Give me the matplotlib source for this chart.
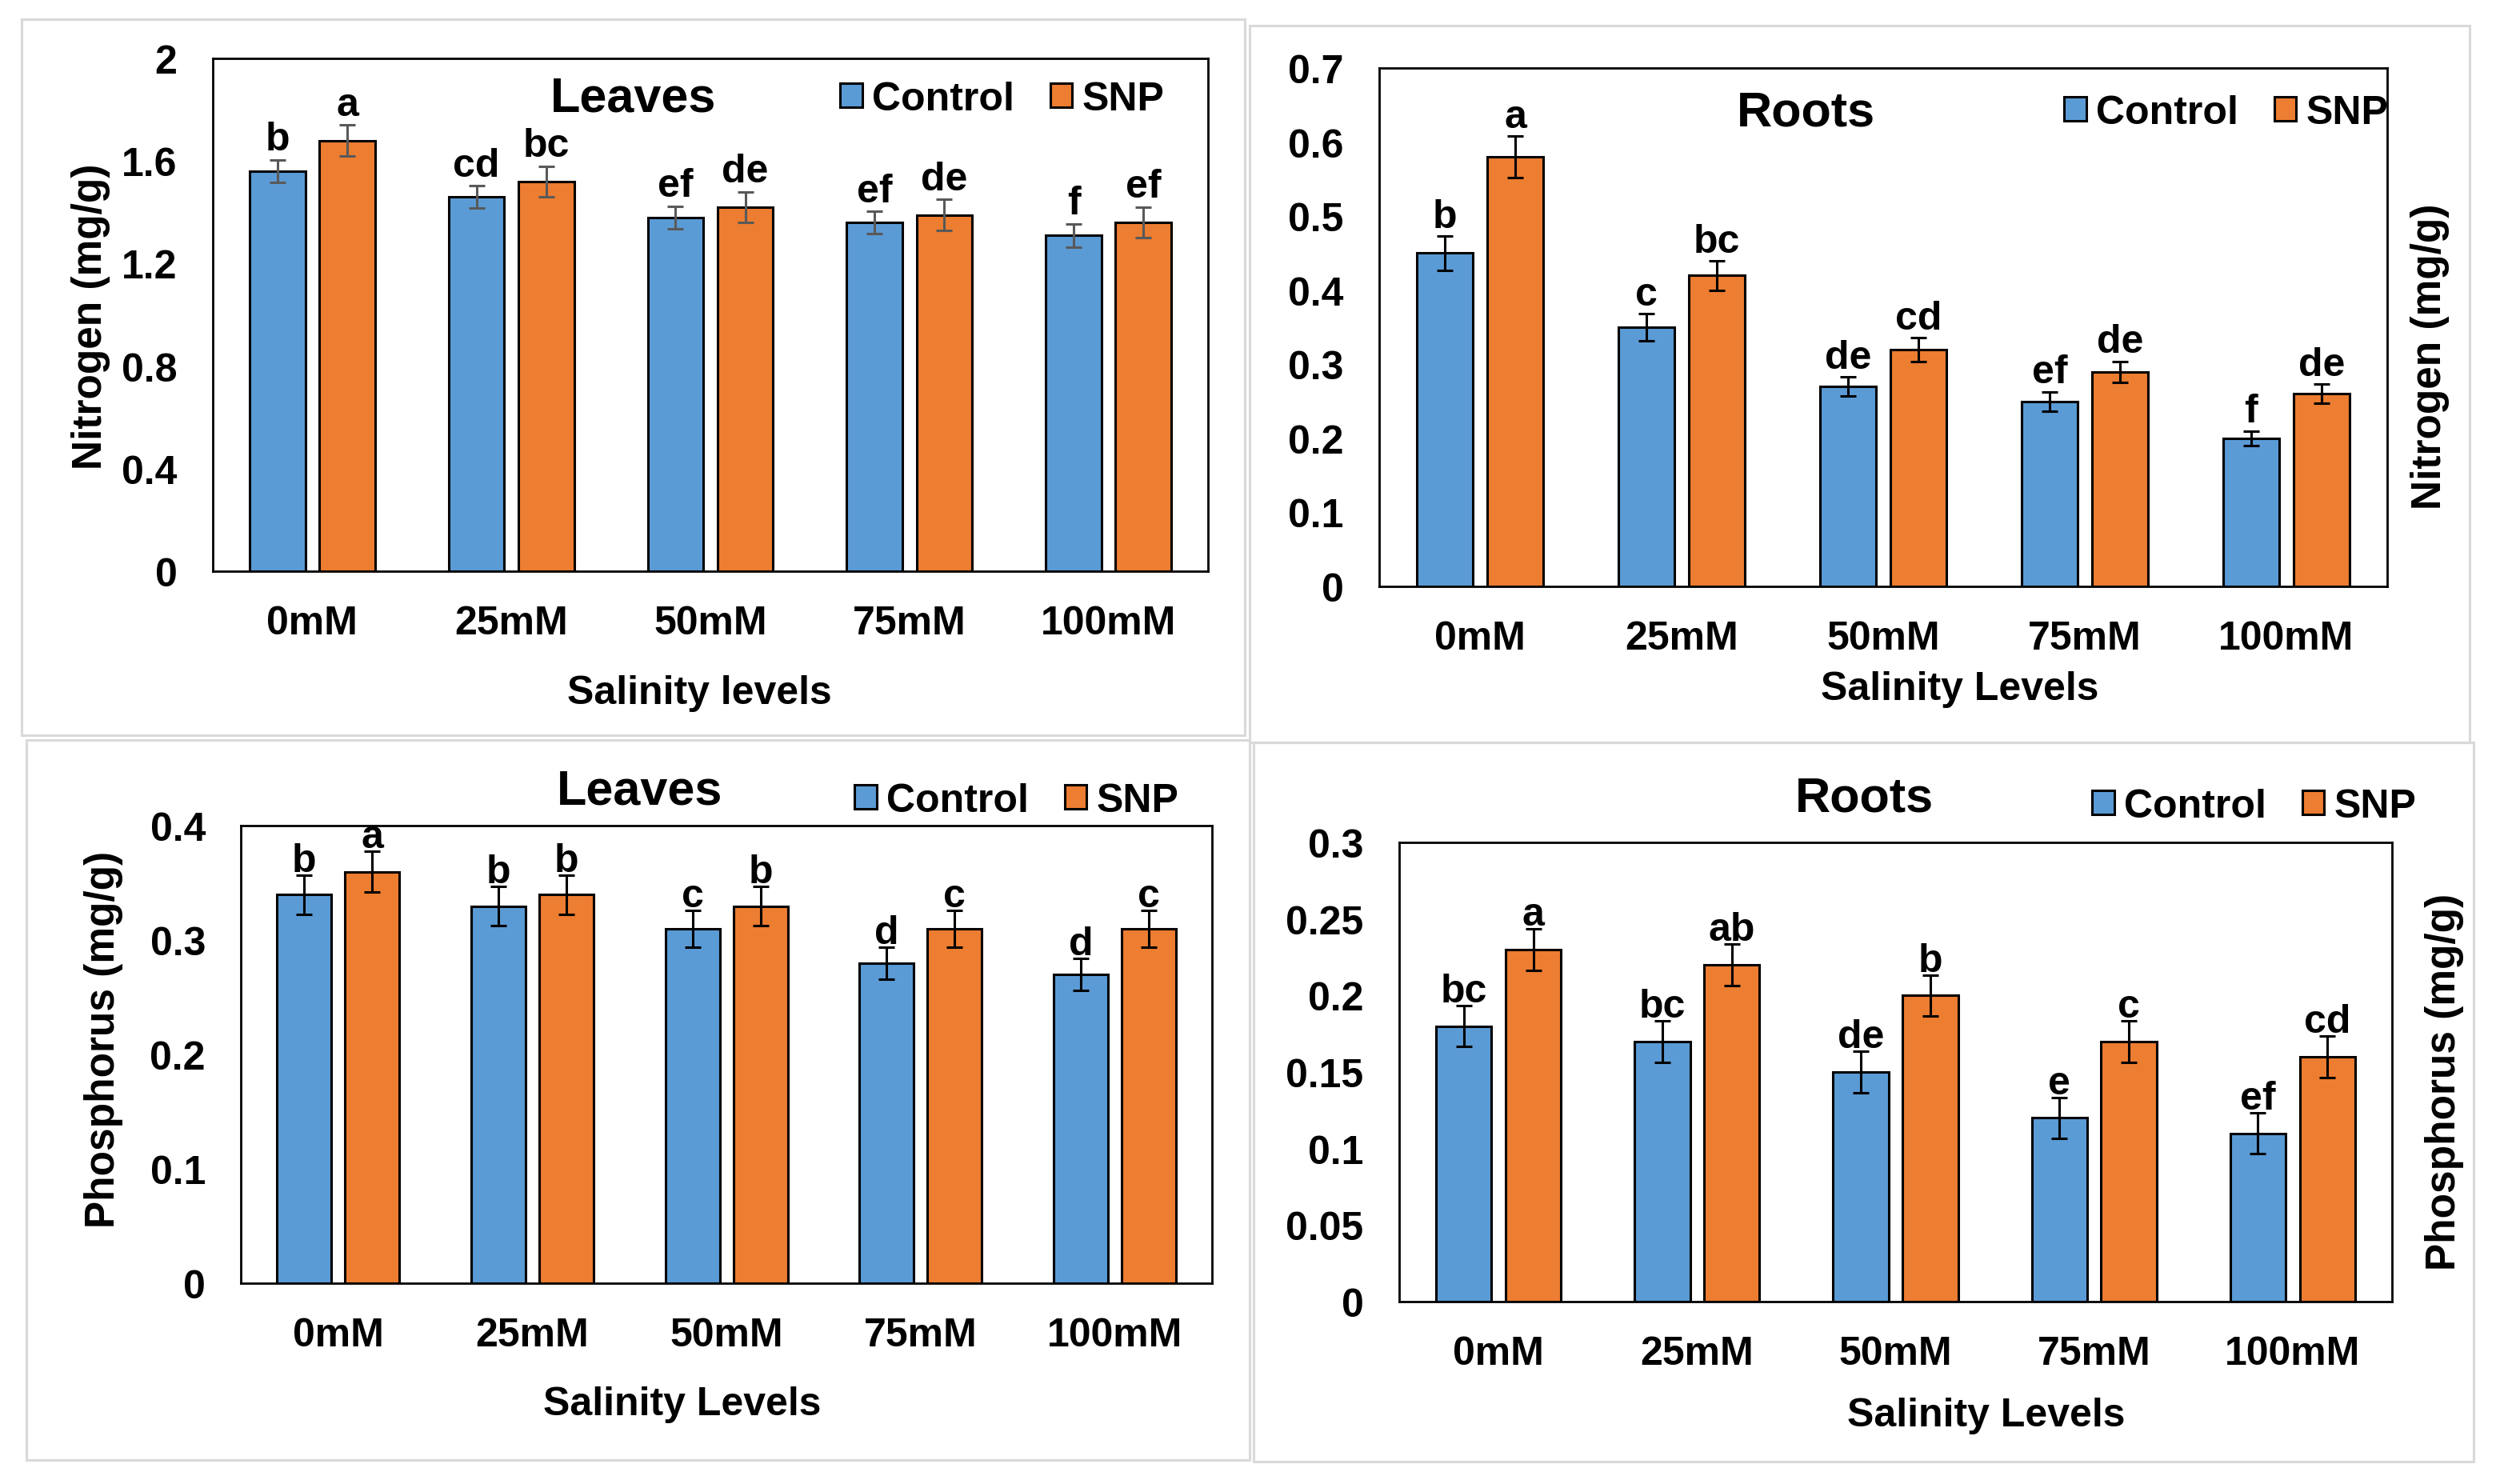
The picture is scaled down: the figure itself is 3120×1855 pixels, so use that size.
import numpy as np
import matplotlib.pyplot as plt
from matplotlib.patches import Rectangle

plt.rcParams['font.family'] = ['Liberation Sans', 'DejaVu Sans']
plt.rcParams['font.weight'] = 'bold'

# -----------------------------
# Data
# -----------------------------
salinity = ["0mM", "25mM", "50mM", "75mM", "100mM"]
series_names = ["Control", "SNP"]

# Nitrogen, leaves
leaf_n_control = [1.56, 1.46, 1.38, 1.36, 1.31]
leaf_n_snp = [1.68, 1.52, 1.42, 1.39, 1.36]
leaf_n_control_err = [0.045, 0.043, 0.044, 0.043, 0.045]
leaf_n_snp_err = [0.06, 0.06, 0.06, 0.06, 0.06]
leaf_n_control_let = ["b", "cd", "ef", "ef", "f"]
leaf_n_snp_let = ["a", "bc", "de", "de", "ef"]
leaf_n_ticks = [0, 0.4, 0.8, 1.2, 1.6, 2]
leaf_n_ticklabels = ["0", "0.4", "0.8", "1.2", "1.6", "2"]

# Nitrogen, roots
root_n_control = [0.45, 0.35, 0.27, 0.25, 0.20]
root_n_snp = [0.58, 0.42, 0.32, 0.29, 0.26]
root_n_control_err = [0.023, 0.018, 0.013, 0.013, 0.01]
root_n_snp_err = [0.028, 0.02, 0.016, 0.014, 0.013]
root_n_control_let = ["b", "c", "de", "ef", "f"]
root_n_snp_let = ["a", "bc", "cd", "de", "de"]
root_n_ticks = [0, 0.1, 0.2, 0.3, 0.4, 0.5, 0.6, 0.7]
root_n_ticklabels = ["0", "0.1", "0.2", "0.3", "0.4", "0.5", "0.6", "0.7"]

# Phosphorus, leaves
leaf_p_control = [0.34, 0.33, 0.31, 0.28, 0.27]
leaf_p_snp = [0.36, 0.34, 0.33, 0.31, 0.31]
leaf_p_control_err = [0.017, 0.017, 0.016, 0.014, 0.014]
leaf_p_snp_err = [0.018, 0.017, 0.017, 0.016, 0.016]
leaf_p_control_let = ["b", "b", "c", "d", "d"]
leaf_p_snp_let = ["a", "b", "b", "c", "c"]
leaf_p_ticks = [0, 0.1, 0.2, 0.3, 0.4]
leaf_p_ticklabels = ["0", "0.1", "0.2", "0.3", "0.4"]

# Phosphorus, roots
root_p_control = [0.18, 0.17, 0.15, 0.12, 0.11]
root_p_snp = [0.23, 0.22, 0.20, 0.17, 0.16]
root_p_control_err = [0.0135, 0.0135, 0.0135, 0.0135, 0.0135]
root_p_snp_err = [0.0135, 0.0135, 0.0135, 0.0135, 0.0135]
root_p_control_let = ["bc", "bc", "de", "e", "ef"]
root_p_snp_let = ["a", "ab", "b", "c", "cd"]
root_p_ticks = [0, 0.05, 0.1, 0.15, 0.2, 0.25, 0.3]
root_p_ticklabels = ["0", "0.05", "0.1", "0.15", "0.2", "0.25", "0.3"]

BLUE = "#5B9BD5"
ORANGE = "#ED7D31"
BORDER = "#D9D9D9"

W, H = 1560.0, 928.0   # layout measured in half-size pixels

fig = plt.figure(figsize=(15.6, 9.28), dpi=200)


def fx(x):
    return x / W


def fy(y):
    return 1 - y / H


def add_axes(left, top, right, bottom):
    return fig.add_axes([fx(left), fy(bottom), (right - left) / W, (bottom - top) / H])


def draw_panel(ax, control, snp, cerr, serr, clet, slet, ticks, ticklabels,
               err_color, let_off):
    x = np.arange(len(salinity))
    width = 0.28
    off = 0.175
    b1 = ax.bar(x - off, control, width, color=BLUE, edgecolor="black", linewidth=1.1, zorder=2)
    b2 = ax.bar(x + off, snp, width, color=ORANGE, edgecolor="black", linewidth=1.1, zorder=2)
    ax.errorbar(x - off, control, yerr=cerr, fmt="none", ecolor=err_color,
                elinewidth=1.1, capsize=3.5, capthick=1.1, zorder=3)
    ax.errorbar(x + off, snp, yerr=serr, fmt="none", ecolor=err_color,
                elinewidth=1.1, capsize=3.5, capthick=1.1, zorder=3)
    for xi, v, e, t in zip(x - off, control, cerr, clet):
        ax.annotate(t, (xi, v + e), xytext=(0, let_off), textcoords="offset points",
                    ha="center", va="baseline", fontsize=18, fontweight="bold")
    for xi, v, e, t in zip(x + off, snp, serr, slet):
        ax.annotate(t, (xi, v + e), xytext=(0, let_off), textcoords="offset points",
                    ha="center", va="baseline", fontsize=18, fontweight="bold")
    ax.set_xlim(-0.5, len(salinity) - 0.5)
    ax.set_ylim(ticks[0], ticks[-1])
    ax.set_xticks(x)
    ax.set_xticklabels(salinity, fontsize=18, fontweight="bold")
    ax.set_yticks(ticks)
    ax.set_yticklabels(ticklabels, fontsize=18, fontweight="bold")
    ax.tick_params(axis="both", length=0)
    ax.tick_params(axis="x", pad=15)
    ax.tick_params(axis="y", pad=16)
    for s in ax.spines.values():
        s.set_linewidth(1.0)
        s.set_color("black")
    return b1, b2


def add_legend(ax, bars, left, ymid):
    ax.legend(bars, series_names, loc="center left", bbox_to_anchor=(fx(left), fy(ymid)),
              bbox_transform=fig.transFigure, ncol=2, frameon=False,
              handlelength=0.55, handleheight=0.55, handletextpad=0.25,
              columnspacing=0.9, borderpad=0, borderaxespad=0,
              prop={"size": 18, "weight": "bold"})


# light grey frames around each chart
for (x0, y0, x1, y1) in [(13.5, 12.5, 778, 460), (781, 16.5, 1543.5, 464.5),
                         (16.5, 463, 781, 913), (783.5, 464.5, 1546, 914)]:
    fig.add_artist(Rectangle((fx(x0), fy(y1)), (x1 - x0) / W, (y1 - y0) / H,
                             transform=fig.transFigure, fill=False,
                             edgecolor=BORDER, linewidth=1.1))

# -----------------------------
# Top-left: Nitrogen leaves
# -----------------------------
ax1 = add_axes(133, 37, 755, 357.5)
bars = draw_panel(ax1, leaf_n_control, leaf_n_snp, leaf_n_control_err, leaf_n_snp_err,
                  leaf_n_control_let, leaf_n_snp_let, leaf_n_ticks, leaf_n_ticklabels,
                  "#595959", 4.5)
add_legend(ax1, bars, 525, 62.5)
fig.text(fx(396), fy(62), "Leaves", fontsize=22, fontweight="bold", ha="center", va="center")
fig.text(fx(57), fy(198), "Nitrogen (mg/g)", fontsize=18.5, fontweight="bold",
         rotation=90, ha="center", va="center")
fig.text(fx(437), fy(433.5), "Salinity levels", fontsize=18, fontweight="bold",
         ha="center", va="center")

# -----------------------------
# Top-right: Nitrogen roots
# -----------------------------
ax2 = add_axes(862, 43, 1492, 367)
bars = draw_panel(ax2, root_n_control, root_n_snp, root_n_control_err, root_n_snp_err,
                  root_n_control_let, root_n_snp_let, root_n_ticks, root_n_ticklabels,
                  "black", 4.0)
add_legend(ax2, bars, 1290, 71)
fig.text(fx(1128.5), fy(71), "Roots", fontsize=22, fontweight="bold", ha="center", va="center")
fig.text(fx(1519), fy(223), "Nitrogen (mg/g)", fontsize=18.5, fontweight="bold",
         rotation=90, ha="center", va="center")
fig.text(fx(1225), fy(431), "Salinity Levels", fontsize=18, fontweight="bold",
         ha="center", va="center")

# -----------------------------
# Bottom-left: Phosphorus leaves
# -----------------------------
ax3 = add_axes(150.7, 516.7, 757.5, 802.7)
bars = draw_panel(ax3, leaf_p_control, leaf_p_snp, leaf_p_control_err, leaf_p_snp_err,
                  leaf_p_control_let, leaf_p_snp_let, leaf_p_ticks, leaf_p_ticklabels,
                  "black", 1.8)
add_legend(ax3, bars, 534, 501)
fig.text(fx(400), fy(495), "Leaves", fontsize=22, fontweight="bold", ha="center", va="center")
fig.text(fx(64.7), fy(649.7), "Phosphorus (mg/g)", fontsize=18.5, fontweight="bold",
         rotation=90, ha="center", va="center")
fig.text(fx(426.5), fy(878), "Salinity Levels", fontsize=18, fontweight="bold",
         ha="center", va="center")

# -----------------------------
# Bottom-right: Phosphorus roots
# -----------------------------
ax4 = add_axes(874.5, 527, 1495, 814)
bars = draw_panel(ax4, root_p_control, root_p_snp, root_p_control_err, root_p_snp_err,
                  root_p_control_let, root_p_snp_let, root_p_ticks, root_p_ticklabels,
                  "black", 1.8)
add_legend(ax4, bars, 1307.5, 504.5)
fig.text(fx(1165), fy(499.5), "Roots", fontsize=22, fontweight="bold", ha="center", va="center")
fig.text(fx(1528), fy(676), "Phosphorus (mg/g)", fontsize=18.5, fontweight="bold",
         rotation=90, ha="center", va="center")
fig.text(fx(1241.5), fy(885), "Salinity Levels", fontsize=18, fontweight="bold",
         ha="center", va="center")

fig.savefig("out.png", dpi=200, facecolor="white")
